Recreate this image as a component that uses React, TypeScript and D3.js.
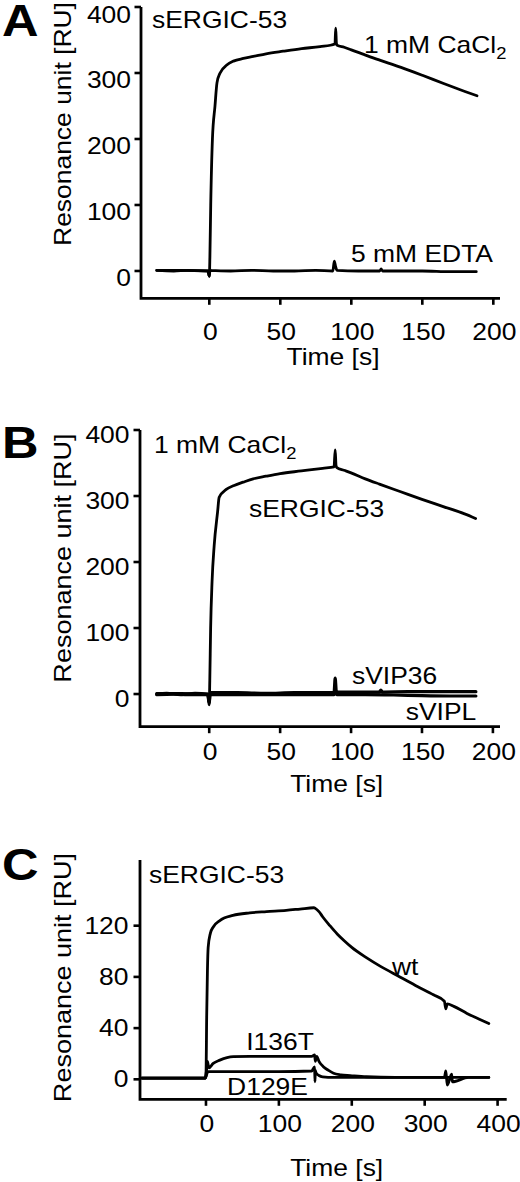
import React from "react";
import * as d3 from "d3";

// ---------- Data ----------
// Panel A
const A_X_TICKS = [0, 50, 100, 150, 200];
const A_Y_TICKS = [0, 100, 200, 300, 400];
const A_CA_TIME = [-37, -20, -1, 0, 0.4, 1, 2.2, 4, 5.4, 7.6, 12.3, 17, 24, 31, 40, 52, 65, 78, 88.5, 89, 89.5, 90, 95, 100, 110, 120, 135, 150, 165, 180, 188.5];
const A_CA_RU = [1, 1, 0, -8, 20, 100, 200, 250, 285, 300, 312, 318, 322, 325, 329, 333, 337, 340, 344, 368, 345, 342, 339, 335, 327, 319.5, 308.5, 296.5, 284, 272, 265.5];
const A_EDTA_TIME = [-37, -25, -15, -1, 0, 0.5, 1, 15, 30, 45, 60, 75, 87, 88, 89, 90, 105, 120, 121, 122, 150, 170, 188];
const A_EDTA_RU = [1, 0, 1, 0, -8, 2, 1, 0, 1, 0, 0, 1, 0, 15, 6, 1, 0, 0, 3, 0, 0, -1, -1];

// Panel B
const B_X_TICKS = [0, 50, 100, 150, 200];
const B_Y_TICKS = [0, 100, 200, 300, 400];
const B_ERGIC_TIME = [-37, -20, -1, 0, 0.4, 1, 2, 3.5, 5.9, 7, 12, 17.6, 24, 31, 40, 50, 65, 80, 88, 88.8, 89.4, 90, 95, 100, 110, 120, 135, 150, 165, 180, 187.8];
const B_ERGIC_RU = [1, 1, 0, -14, 20, 100, 170, 225, 276, 298, 310, 316, 321, 326, 330, 334, 338, 342, 344, 370, 346, 343, 339, 335, 326, 318, 306.5, 295, 284, 273, 266];
const B_VIP36_TIME = [-37, -30, -20, -10, -1, 0, 0.5, 1, 20, 40, 60, 80, 88, 88.8, 89.6, 90, 110, 120, 121, 122, 140, 160, 188];
const B_VIP36_RU = [0, 1, -1, 1, 0, -16, 0, 2, 2, 1, 2, 2, 2, 24, 4, 3, 3, 3, 6, 3, 3.5, 3.5, 3.5];
const B_VIPL_TIME = [-37, -25, -15, -1, 0, 0.5, 1, 30, 60, 88, 89, 90, 110, 130, 150, 170, 188];
const B_VIPL_RU = [-1, 0, -1, -1, -12, -2, -1, -1, -1, -1, 6, -1, -1, -1.5, -2.5, -3, -3];

// Panel C
const C_X_TICKS = [0, 100, 200, 300, 400];
const C_Y_TICKS = [0, 40, 80, 120];
const C_WT_TIME = [-88, -50, -10, -1, 0, 1, 2, 3, 6, 10, 19, 37, 60, 83, 110, 129, 148, 150, 155, 160, 170, 180, 190, 200, 220, 240, 266, 290, 312, 327, 329, 331, 340, 358, 375, 388];
const C_WT_RU = [1, 1, 1, 1, 3, 50, 85, 103, 114, 119, 124, 128, 130, 131, 132, 133, 134, 133.5, 131, 127, 120, 113.5, 108, 103, 95, 88, 80, 72.5, 66, 61, 55, 59, 57, 51.5, 47, 43.6];
const C_I136T_TIME = [-88, -50, -10, -1, 0, 1, 2, 4, 10, 19, 37.5, 60, 100, 145, 149, 150, 152, 155, 161, 168, 175, 185, 198, 220, 260, 300, 327, 329, 331, 337, 338, 360, 388];
const C_I136T_RU = [1, 1, 1, 1, 4, 8, 14, 9, 12.5, 15, 17.7, 18, 18, 18, 19, 14, 18, 14, 9.9, 7, 4.7, 3.5, 2.9, 2, 1.5, 1.5, 1.5, 6.5, -4.5, 4, -2, 1.5, 1.5];
const C_D129E_TIME = [-88, -50, -10, -1, 0, 1, 3, 10, 50, 100, 145, 149, 149.5, 150, 151, 155, 160, 175, 200, 260, 320, 350, 388];
const C_D129E_RU = [1, 1, 1, 1, 2, 4, 6, 6, 6, 6, 6.5, 9.8, -1.9, 7, 5, 3, 2, 1.5, 1.5, 1.5, 1.5, 1.5, 1.5];

// ---------- Drawing helpers ----------
const FONT = "'Liberation Sans', Arial, Helvetica, sans-serif";
const SX = 1.15;

type TProps = {
  x: number;
  y: number;
  anchor?: "start" | "middle" | "end";
  size?: number;
  bold?: boolean;
  rot?: number;
  children: React.ReactNode;
};

function T({ x, y, anchor = "start", size = 23, bold = false, rot = 0, children }: TProps) {
  return (
    <text
      transform={`translate(${x},${y}) rotate(${rot}) scale(${SX},1)`}
      textAnchor={anchor}
      fontSize={size}
      fontWeight={bold ? "bold" : "normal"}
      fontFamily={FONT}
      fill="#000"
    >
      {children}
    </text>
  );
}

type Series = { t: number[]; v: number[]; w?: number };

type PanelProps = {
  xDomain: [number, number];
  xRange: [number, number];
  yDomain: [number, number];
  yRange: [number, number];
  xTicks: number[];
  yTicks: number[];
  series: Series[];
  xLabelBaseline: number;
  yLabelOffset: number;
  yLabelX: number;
};

function Panel(p: PanelProps) {
  const x = d3.scaleLinear().domain(p.xDomain).range(p.xRange);
  const y = d3.scaleLinear().domain(p.yDomain).range(p.yRange);
  const line = d3
    .line<[number, number]>()
    .x((d) => x(d[0]))
    .y((d) => y(d[1]))
    .curve(d3.curveMonotoneX);
  const x0 = p.xRange[0];
  const y0 = p.yRange[0];
  return (
    <g>
      {p.series.map((s, i) => (
        <path
          key={i}
          d={line(s.t.map((t, j) => [t, s.v[j]] as [number, number])) || ""}
          fill="none"
          stroke="#000"
          strokeWidth={s.w ?? 2.8}
          strokeLinejoin="round"
          strokeLinecap="round"
        />
      ))}
      {/* axes */}
      <path
        d={`M${x0},${p.yRange[1]}V${y0}H${p.xRange[1]}`}
        fill="none"
        stroke="#000"
        strokeWidth={2.8}
      />
      {p.xTicks.map((t) => (
        <g key={"xt" + t}>
          <line x1={x(t)} x2={x(t)} y1={y0} y2={y0 + 6.5} stroke="#000" strokeWidth={2.6} />
          <T x={x(t) + 1} y={p.xLabelBaseline} anchor="middle">
            {String(t)}
          </T>
        </g>
      ))}
      {p.yTicks.map((t) => (
        <g key={"yt" + t}>
          <line x1={x0 - 6.5} x2={x0} y1={y(t)} y2={y(t)} stroke="#000" strokeWidth={2.6} />
          <T x={p.yLabelX} y={y(t) + p.yLabelOffset} anchor="end">
            {String(t)}
          </T>
        </g>
      ))}
    </g>
  );
}

function CaCl2({ x, y }: { x: number; y: number }) {
  return (
    <text
      transform={`translate(${x},${y}) scale(${SX},1)`}
      fontSize={23}
      fontFamily={FONT}
      fill="#000"
    >
      1 mM CaCl
      <tspan fontSize={16} dy={6}>
        2
      </tspan>
    </text>
  );
}

export default function App() {
  return (
    <svg
      width={520}
      height={1182}
      viewBox="0 0 520 1182"
      style={{ position: "absolute", left: 0, top: 0, background: "#fff" }}
    >
      <rect x={0} y={0} width={520} height={1182} fill="#fff" />

      {/* Panel A */}
      <Panel
        xDomain={[-48.1, 204.7]}
        xRange={[141, 500]}
        yDomain={[-41.4, 400]}
        yRange={[298.3, 7]}
        xTicks={A_X_TICKS}
        yTicks={A_Y_TICKS}
        series={[
          { t: A_EDTA_TIME, v: A_EDTA_RU },
          { t: A_CA_TIME, v: A_CA_RU },
        ]}
        xLabelBaseline={340}
        yLabelOffset={15.5}
        yLabelX={131}
      />
      <T x={2} y={36} size={44} bold>
        A
      </T>
      <T x={71} y={124} rot={-90} anchor="middle" size={23}>
        Resonance unit [RU]
      </T>
      <T x={152} y={28}>sERGIC-53</T>
      <CaCl2 x={364} y={53} />
      <T x={351} y={262}>5 mM EDTA</T>
      <T x={333} y={365} anchor="middle">
        Time [s]
      </T>

      {/* Panel B */}
      <Panel
        xDomain={[-48.8, 205]}
        xRange={[140, 500]}
        yDomain={[-49.5, 400]}
        yRange={[726.7, 430]}
        xTicks={B_X_TICKS}
        yTicks={B_Y_TICKS}
        series={[
          { t: B_VIPL_TIME, v: B_VIPL_RU, w: 3.2 },
          { t: B_VIP36_TIME, v: B_VIP36_RU, w: 3.2 },
          { t: B_ERGIC_TIME, v: B_ERGIC_RU },
        ]}
        xLabelBaseline={760}
        yLabelOffset={13}
        yLabelX={129.5}
      />
      <T x={2} y={458} size={44} bold>
        B
      </T>
      <T x={71} y={558} rot={-90} anchor="middle" size={23.5}>
        Resonance unit [RU]
      </T>
      <CaCl2 x={154} y={452.7} />
      <T x={249} y={516.7}>sERGIC-53</T>
      <T x={352} y={684.3}>sVIP36</T>
      <T x={405.7} y={720}>sVIPL</T>
      <T x={336.7} y={792} anchor="middle">
        Time [s]
      </T>

      {/* Panel C */}
      <Panel
        xDomain={[-90.5, 412.5]}
        xRange={[140, 506.7]}
        yDomain={[-15.6, 171.3]}
        yRange={[1099.3, 860]}
        xTicks={C_X_TICKS}
        yTicks={C_Y_TICKS}
        series={[
          { t: C_D129E_TIME, v: C_D129E_RU },
          { t: C_I136T_TIME, v: C_I136T_RU },
          { t: C_WT_TIME, v: C_WT_RU },
        ]}
        xLabelBaseline={1131.5}
        yLabelOffset={8}
        yLabelX={128.5}
      />
      <T x={2} y={880} size={44} bold>
        C
      </T>
      <T x={71} y={977.5} rot={-90} anchor="middle" size={23.5}>
        Resonance unit [RU]
      </T>
      <T x={149} y={883.3}>sERGIC-53</T>
      <T x={392} y={975}>wt</T>
      <T x={280} y={1050} anchor="middle">
        I136T
      </T>
      <T x={267.5} y={1095} anchor="middle">
        D129E
      </T>
      <T x={336.7} y={1175.5} anchor="middle">
        Time [s]
      </T>
    </svg>
  );
}
